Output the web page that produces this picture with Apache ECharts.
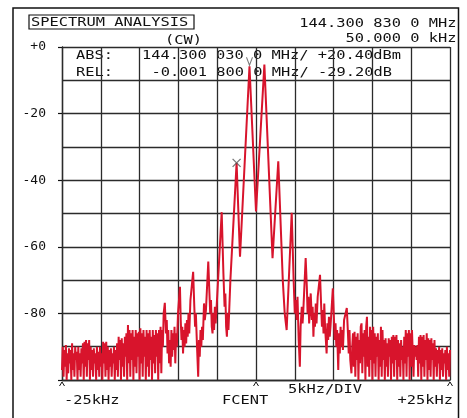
<!DOCTYPE html>
<html>
<head>
<meta charset="utf-8">
<style>
  html, body { margin: 0; padding: 0; background: #fff; }
  #chart { width: 467px; height: 418px; }
</style>
<script src="https://cdn.jsdelivr.net/npm/echarts@6/dist/echarts.min.js"></script>
</head>
<body>
<div id="chart"></div>
<script>
// trace: [offset from centre in kHz, level in dB]
const traceLeftNoise = [
  [-25.0, -97], [-24.9, -90], [-24.8, -99], [-24.7, -91], [-24.6, -96], [-24.5, -89.5],
  [-24.4, -100], [-24.3, -92], [-24.2, -98], [-24.1, -90.5], [-24.0, -95], [-23.9, -91],
  [-23.8, -100], [-23.7, -89], [-23.6, -97], [-23.5, -92], [-23.4, -99], [-23.3, -90],
  [-23.2, -94], [-23.1, -91.5], [-23.0, -100], [-22.9, -90], [-22.8, -97], [-22.7, -92],
  [-22.6, -99], [-22.5, -90.5], [-22.4, -95], [-22.3, -89], [-22.2, -100], [-22.1, -88.5],
  [-22.0, -96], [-21.9, -88], [-21.8, -99], [-21.7, -89], [-21.6, -94], [-21.5, -88],
  [-21.4, -100], [-21.3, -90], [-21.2, -97], [-21.1, -91], [-21.0, -99], [-20.9, -90.5],
  [-20.8, -95], [-20.7, -92], [-20.6, -100], [-20.5, -90], [-20.4, -97], [-20.3, -91.5],
  [-20.2, -99], [-20.1, -90], [-20.0, -96], [-19.9, -92], [-19.8, -100], [-19.7, -88.5],
  [-19.6, -95], [-19.5, -89], [-19.4, -99], [-19.3, -88.5], [-19.2, -97], [-19.1, -90],
  [-19.0, -100], [-18.9, -91], [-18.8, -96], [-18.7, -90.5], [-18.6, -99], [-18.5, -92],
  [-18.4, -95], [-18.3, -90], [-18.2, -100], [-18.1, -91], [-18.0, -97], [-17.9, -89],
  [-17.8, -99], [-17.7, -87], [-17.6, -94], [-17.5, -88], [-17.4, -100], [-17.3, -87.5],
  [-17.2, -96], [-17.1, -89], [-17.0, -99], [-16.9, -87], [-16.8, -93], [-16.7, -86],
  [-16.6, -100], [-16.5, -83.5], [-16.4, -95], [-16.3, -85], [-16.2, -99], [-16.1, -86],
  [-16.0, -94], [-15.9, -85], [-15.8, -100], [-15.7, -87], [-15.6, -96], [-15.5, -85],
  [-15.4, -98], [-15.3, -86], [-15.2, -93], [-15.1, -85.5], [-15.0, -100], [-14.9, -84.5],
  [-14.8, -95], [-14.7, -86], [-14.6, -99], [-14.5, -85], [-14.4, -93], [-14.3, -87],
  [-14.2, -100], [-14.1, -85], [-14.0, -96], [-13.9, -86], [-13.8, -99], [-13.7, -85],
  [-13.6, -94], [-13.5, -87], [-13.4, -100], [-13.3, -85], [-13.2, -95], [-13.1, -86.5],
  [-13.0, -98], [-12.9, -85], [-12.8, -93], [-12.7, -86], [-12.6, -100], [-12.5, -85],
  [-12.4, -95], [-12.3, -84], [-12.2, -98], [-12.1, -85], [-12.0, -90]
]
const traceLeftSidebands = [
  [-11.9, -80], [-11.75, -76.8], [-11.6, -86], [-11.5, -82], [-11.4, -92], [-11.3, -85],
  [-11.2, -95], [-11.1, -88], [-11.0, -96], [-10.9, -85], [-10.8, -93], [-10.7, -86],
  [-10.6, -91], [-10.5, -84], [-10.4, -95], [-10.3, -86], [-10.2, -90], [-10.05, -80],
  [-9.8, -72], [-9.7, -82], [-9.6, -88], [-9.5, -84], [-9.4, -92], [-9.3, -85],
  [-9.2, -90], [-9.1, -83], [-9.0, -89], [-8.9, -82], [-8.8, -87], [-8.7, -80],
  [-8.6, -86], [-8.45, -76], [-8.1, -67.5], [-7.95, -78], [-7.85, -84], [-7.75, -80],
  [-7.6, -90], [-7.45, -99], [-7.35, -88], [-7.25, -93], [-7.15, -85], [-7.05, -90],
  [-6.95, -84], [-6.85, -88], [-6.7, -77], [-6.6, -82], [-6.45, -79], [-6.15, -64.4],
  [-6.0, -74], [-5.9, -80], [-5.8, -76], [-5.7, -84], [-5.6, -86], [-5.5, -80],
  [-5.4, -85], [-5.3, -78], [-5.2, -83], [-5.05, -77], [-4.42, -49.6], [-4.2, -68],
  [-4.05, -78], [-3.95, -74], [-3.85, -84], [-3.75, -87], [-3.65, -80], [-3.55, -85],
  [-3.45, -79], [-3.3, -70]
]
const traceCarrier = [
  [-2.5, -34.8], [-2.06, -63], [-0.84, -5.8], [0, -49.4], [1.08, -5.3], [2.13, -63.4],
  [2.87, -34.3], [3.45, -70], [3.7, -80], [3.95, -85], [4.6, -49.8]
]
const traceRightSidebands = [
  [4.85, -70], [5.0, -80], [5.1, -76], [5.25, -82], [5.35, -75], [5.5, -88],
  [5.65, -96], [5.75, -84], [5.9, -78], [6.0, -83], [6.1, -79], [6.4, -63.4],
  [6.55, -72], [6.65, -80], [6.75, -75], [6.85, -83], [6.95, -79], [7.05, -74],
  [7.2, -82], [7.3, -78], [7.4, -87], [7.5, -80], [7.6, -84], [7.7, -77],
  [7.8, -83], [7.95, -75], [8.25, -68.4], [8.4, -78], [8.5, -84], [8.6, -79],
  [8.7, -86], [8.8, -77], [8.9, -84], [9.0, -88], [9.1, -92], [9.2, -83],
  [9.3, -88], [9.4, -81], [9.5, -87], [9.6, -84], [9.9, -72.5], [10.05, -82],
  [10.15, -88], [10.25, -83], [10.35, -90], [10.45, -85], [10.6, -97], [10.7, -86],
  [10.8, -92], [10.9, -84], [11.0, -90], [11.1, -85], [11.2, -91], [11.35, -82],
  [11.7, -78.4], [11.85, -86], [11.95, -92], [12.05, -85], [12.15, -94], [12.3, -98]
]
const traceRightNoise = [
  [12.4, -90], [12.5, -86], [12.6, -96], [12.7, -85.5], [12.8, -99], [12.9, -87],
  [13.0, -94], [13.1, -86], [13.2, -100], [13.3, -88], [13.4, -95], [13.5, -84],
  [13.6, -83], [13.7, -98], [13.8, -86], [13.9, -93], [14.0, -85], [14.1, -100],
  [14.2, -84], [14.3, -81], [14.4, -96], [14.5, -87], [14.6, -99], [14.7, -84],
  [14.8, -94], [14.9, -85], [15.0, -100], [15.1, -84], [15.2, -95], [15.3, -86],
  [15.4, -99], [15.5, -87], [15.6, -93], [15.7, -86], [15.8, -100], [15.9, -88],
  [16.0, -96], [16.1, -84], [16.2, -99], [16.3, -85], [16.4, -94], [16.5, -88],
  [16.6, -100], [16.7, -87.5], [16.8, -96], [16.9, -89], [17.0, -99], [17.1, -87.5],
  [17.2, -93], [17.3, -88], [17.4, -100], [17.5, -87], [17.6, -95], [17.7, -86.5],
  [17.8, -99], [17.9, -87], [18.0, -94], [18.1, -86.5], [18.2, -100], [18.3, -88],
  [18.4, -96], [18.5, -89], [18.6, -99], [18.7, -88], [18.8, -94], [18.9, -90],
  [19.0, -100], [19.1, -87], [19.2, -95], [19.3, -85], [19.4, -99], [19.5, -86],
  [19.6, -93], [19.7, -85], [19.8, -100], [19.9, -86], [20.0, -96], [20.1, -85],
  [20.2, -84.4], [20.3, -99], [20.4, -89.5], [20.5, -93], [20.6, -90], [20.7, -94],
  [20.8, -89.5], [20.9, -99], [21.0, -87], [21.1, -95], [21.2, -86.5], [21.3, -100],
  [21.4, -87], [21.5, -96], [21.6, -86.5], [21.7, -99], [21.8, -88], [21.9, -94],
  [22.0, -86], [22.1, -100], [22.2, -87.5], [22.3, -97], [22.4, -88], [22.5, -99],
  [22.6, -87.5], [22.7, -94], [22.8, -89], [22.9, -100], [23.0, -88], [23.1, -96],
  [23.2, -90.5], [23.3, -99], [23.4, -91], [23.5, -95], [23.6, -90], [23.7, -100],
  [23.8, -91], [23.9, -97], [24.0, -90.5], [24.1, -99], [24.2, -92], [24.3, -95],
  [24.4, -91], [24.5, -100], [24.6, -90], [24.7, -97], [24.8, -92], [24.9, -99],
  [25.0, -91]
]

const markerAbs = [-0.84, -5.8]   // "V" marker
const markerRel = [-2.5, -34.8]   // "X" marker

const dbTicks = [0, -20, -40, -60, -80]
const dbTickLabels = ['+0', '-20', '-40', '-60', '-80']
const freqLabels = ['-25kHz', 'FCENT', '+25kHz']

const trace = [].concat(traceLeftNoise, traceLeftSidebands, traceCarrier,
  traceRightSidebands, traceRightNoise)

const MONO = "'DejaVu Sans Mono', monospace"
const INK = '#111'
const GRID_INK = '#2b2b2b'
const TRACE_RED = '#d8142c'
const PLOT_W = 467 - 62 - 17
const PLOT_H = 418 - 47 - 38

function label (text, x, y, align, size, sx) {
  return {
    type: 'text', x: x, y: y, scaleX: sx || 1.28, silent: true,
    style: {
      text: text, fill: INK, font: (size || 12) + 'px ' + MONO,
      textAlign: align || 'left', textVerticalAlign: 'middle'
    }
  }
}

function caret (x) {
  return {
    type: 'polyline', silent: true,
    shape: { points: [[x - 2.5, 386], [x, 382], [x + 2.5, 386]] },
    style: { stroke: INK, lineWidth: 1, fill: 'rgba(0,0,0,0)' }
  }
}

const chart = echarts.init(document.getElementById('chart'))

// grid lines come from full-length inside ticks; axes pinned to the plot edges
chart.setOption({
  backgroundColor: '#fff',
  animation: false,
  grid: { left: 62, right: 17, top: 47, bottom: 38 },
  xAxis: {
    type: 'value', min: -25, max: 25, interval: 5,
    axisLine: { show: true, onZero: false, lineStyle: { color: INK, width: 1.3 } },
    axisTick: { show: true, inside: true, length: PLOT_H, lineStyle: { color: GRID_INK, width: 1.3 } },
    axisLabel: { show: false },
    splitLine: { show: false }
  },
  yAxis: [
    {
      type: 'value', min: -100, max: 0, interval: 10,
      axisLine: { show: true, onZero: false, lineStyle: { color: INK, width: 1.3 } },
      axisTick: { show: true, inside: true, length: PLOT_W, lineStyle: { color: GRID_INK, width: 1.3 } },
      axisLabel: {
        margin: 16, color: INK, fontFamily: MONO, fontSize: 13,
        formatter: function (v) {
          const i = dbTicks.indexOf(v)
          return i < 0 ? '' : dbTickLabels[i]
        }
      },
      splitLine: { show: false }
    },
    {
      type: 'value', min: -100, max: 0, interval: 20, position: 'left',
      axisLine: { show: false, onZero: false },
      axisTick: { show: true, length: 4, lineStyle: { color: INK, width: 1.2 } },
      axisLabel: { show: false },
      splitLine: { show: false }
    }
  ],
  series: [
    {
      type: 'line',
      data: trace,
      showSymbol: false,
      lineStyle: { color: TRACE_RED, width: 2 },
      z: 3
    },
    {
      type: 'scatter',
      data: [markerRel],
      symbol: 'path://M0,0L10,10M10,0L0,10',
      symbolSize: 8,
      itemStyle: { color: 'rgba(0,0,0,0)', borderColor: '#555', borderWidth: 1.3 },
      z: 4
    },
    {
      type: 'scatter',
      data: [markerAbs],
      symbol: 'path://M0,0L5,10L10,0',
      symbolSize: [6, 8],
      symbolOffset: [0, -5],
      itemStyle: { color: 'rgba(0,0,0,0)', borderColor: '#555', borderWidth: 1.2 },
      z: 4
    }
  ],
  graphic: [
    {
      type: 'rect', silent: true,
      shape: { x: 13, y: 8, width: 445.5, height: 430 },
      style: { fill: 'rgba(0,0,0,0)', stroke: INK, lineWidth: 1.5 }
    },
    {
      type: 'rect', silent: true,
      shape: { x: 29, y: 15, width: 165, height: 14 },
      style: { fill: 'rgba(0,0,0,0)', stroke: INK, lineWidth: 1.2 }
    },
    label('SPECTRUM ANALYSIS', 31, 22.5),
    label('(CW)', 165, 40.5),
    label('144.300 830 0 MHz', 456.5, 24, 'right'),
    label('50.000 0 kHz', 456.5, 38.5, 'right'),
    label('ABS:', 76, 55.5),
    label('REL:', 76, 72.5),
    label('144.300 030 0 MHz/ +20.40dBm', 142, 55.5),
    label('-0.001 800 0 MHz/ -29.20dB', 151.5, 72.5),
    label(freqLabels[0], 64, 400.5),
    label(freqLabels[1], 222, 400.5),
    label('5kHz/DIV', 288, 390),
    label(freqLabels[2], 453, 400.5, 'right'),
    caret(62), caret(256), caret(450)
  ]
})
</script>
</body>
</html>
